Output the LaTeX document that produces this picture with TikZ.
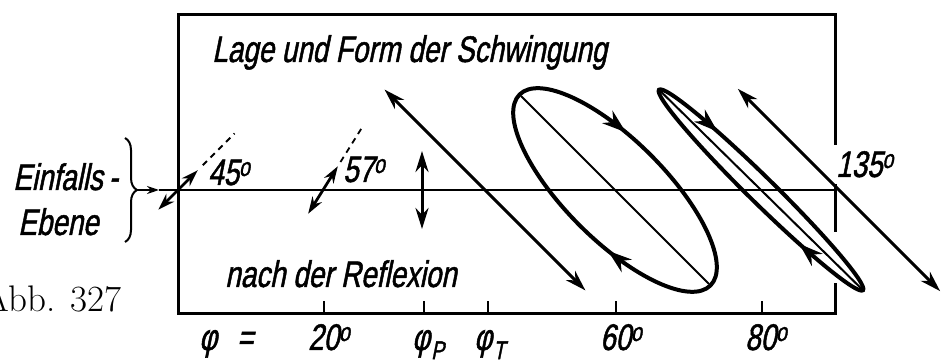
\documentclass[tikz,border=0pt]{standalone}
\usepackage{fontspec}
\usepackage{tikz}
\usetikzlibrary{arrows.meta,calc,decorations.pathreplacing,decorations.markings}
\newfontfamily\din[FakeSlant=0.2,FakeStretch=0.75,FakeBold=1.3]{Liberation Sans}
\newcommand{\dg}{\textsuperscript{o}}

\begin{document}
\begin{tikzpicture}[x=1pt,y=1pt,
  lbl/.style={font=\din\fontsize{37}{37}\selectfont,inner sep=0pt,anchor=base west},
  frame/.style={line width=3pt},
  plane/.style={line width=2pt},
  vib/.style={{Stealth[length=21pt,width=13pt]}-{Stealth[length=21pt,width=13pt]},line width=3pt},
  small/.style={{Stealth[length=17pt,width=11pt]}-{Stealth[length=17pt,width=11pt]},line width=2.8pt},
  azi/.style={line width=1.8pt,dash pattern=on 6pt off 5pt},
  ell/.style={line width=4pt,postaction={decorate}},
  tick/.style={line width=2pt}]
 \useasboundingbox (0,0) rectangle (942,363);
 \clip (0,0) rectangle (942,363);
 % frame, broken on the right for the label and the thin ellipse
 \draw[frame] (835,218) -- (835,348) -- (178,348) -- (178,49) -- (835,49) -- (835,80);
 \draw[frame] (835,179) -- (835,131);
 \foreach \x in {324,424,488,616,762} \draw[tick] (\x,49) -- (\x,62);
 % plane of incidence
 \coordinate (br) at (137,173);
 \coordinate (pl) at (159,173);
 \coordinate (pr) at (835,173);
 \draw[decorate,decoration={brace,amplitude=12pt},line width=2pt] (125,225) -- (125,121);
 \draw[-{Stealth[length=12pt,width=8pt]},line width=2pt] (br) -- (pl);
 \draw[plane] (pl) -- (pr);
 % vibrations
 \coordinate (c45) at (178,173);
 \coordinate (c57) at (323,173);
 \coordinate (cp) at (422,173);
 \coordinate (ct) at (485,173);
 \coordinate (e1) at (615,173);
 \coordinate (e2) at (761,173);
 \coordinate (c135) at (839,173);
 \draw[small] ($(c45)+(225:28)$) -- ($(c45)+(45:28)$);
 \draw[azi] ($(c45)+(45:35)$) -- ($(c45)+(45:80)$);
 \draw[small] ($(c57)+(238:28)$) -- ($(c57)+(58:28)$);
 \draw[azi] ($(c57)+(58:33)$) -- ($(c57)+(58:74)$);
 \draw[vib] ($(cp)+(0,39)$) -- ($(cp)+(0,-39)$);
 \draw[vib] ($(ct)+(135:142)$) -- ($(ct)+(-45:142)$);
 \draw[ell,rotate around={-45:(e1)},decoration={markings,
   mark=at position 0.304 with {\arrowreversed{Stealth[length=24pt,width=16pt]}},
   mark=at position 0.812 with {\arrowreversed{Stealth[length=24pt,width=16pt]}}}]
   (e1) ellipse [x radius=135,y radius=50];
 \draw[plane] ($(e1)+(135:133)$) -- ($(e1)+(-45:133)$);
 \draw[ell,rotate around={-44.5:(e2)},decoration={markings,
   mark=at position 0.374 with {\arrowreversed{Stealth[length=24pt,width=16pt]}},
   mark=at position 0.862 with {\arrowreversed{Stealth[length=24pt,width=16pt]}}}]
   (e2) ellipse [x radius=143,y radius=13];
 \draw[plane] ($(e2)+(135.5:141)$) -- ($(e2)+(-44.5:141)$);
 \draw[vib] ($(c135)+(135:143)$) -- ($(c135)+(-45:143)$);
 % texts
 \node[lbl] (title) at (212,301) {Lage und Form der Schwingung};
 \node[lbl] (after) at (225,76) {nach der Reflexion};
 \node[lbl] (einf) at (13,173) {Einfalls\,-};
 \node[lbl] (ebene) at (18,128) {Ebene};
 \node[lbl] (a45) at (208,178) {45\dg};
 \node[lbl] (a57) at (343,181) {57\dg};
 \node[lbl] (a135) at (836,186) {135\dg};
 \node[lbl] (phi) at (199,13) {φ\hspace{20pt}=};
 \node[lbl] (p20) at (308,13) {20\dg};
 \node[lbl] (pp) at (412,13) {φ\kern1pt\textsubscript{P}};
 \node[lbl] (pt) at (474,13) {φ\kern1pt\textsubscript{T}};
 \node[lbl] (p60) at (600,13) {60\dg};
 \node[lbl] (p80) at (745,13) {80\dg};
 \node[font=\fontsize{37}{37}\selectfont,anchor=base east,inner sep=0pt] (abb) at (122,51) {Abb. 327};
\end{tikzpicture}
\end{document}
